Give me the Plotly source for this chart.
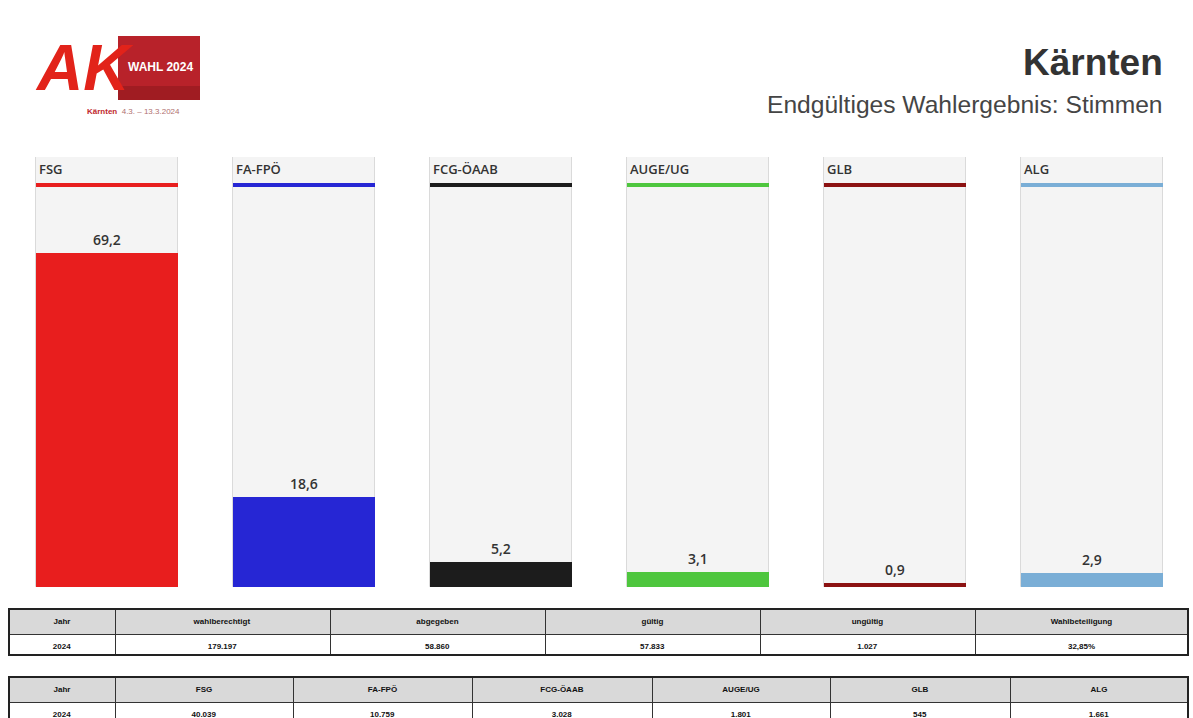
import plotly.graph_objects as go

# ---------------- data ----------------
parties = ["FSG", "FA-FPÖ", "FCG-ÖAAB", "AUGE/UG", "GLB", "ALG"]
percent = [69.2, 18.6, 5.2, 3.1, 0.9, 2.9]
percent_labels = ["69,2", "18,6", "5,2", "3,1", "0,9", "2,9"]
party_colors = ["#e81e1e", "#2626d4", "#1c1c1c", "#4ec63e", "#8c1212", "#7aaed6"]

summary_header = ["Jahr", "wahlberechtigt", "abgegeben", "gültig", "ungültig", "Wahlbeteiligung"]
summary_values = ["2024", "179.197", "58.860", "57.833", "1.027", "32,85%"]

votes_header = ["Jahr", "FSG", "FA-FPÖ", "FCG-ÖAAB", "AUGE/UG", "GLB", "ALG"]
votes_values = ["2024", "40.039", "10.759", "3.028", "1.801", "545", "1.661"]

title_text = "Kärnten"
subtitle_text = "Endgültiges Wahlergebnis: Stimmen"

# ---------------- layout helpers ----------------
W, H = 1193, 718
def px(x):
    return x / W
def py(y):
    return 1 - y / H

YMAX = 89.0          # full panel height in data units
HEADER_Y = 83.2      # colored header line position
HEADER_T = 0.85      # colored header line thickness
LABEL_Y = 86.6       # party label position
BW = 0.721           # bar/panel width

fig = go.Figure()

# panel backgrounds
fig.add_trace(go.Bar(
    x=parties, y=[YMAX] * len(parties), width=BW,
    marker=dict(color="#f4f4f4", line=dict(color="#dadada", width=1)),
    hoverinfo="skip", showlegend=False))

# value bars
fig.add_trace(go.Bar(
    x=parties, y=percent, width=BW,
    marker=dict(color=party_colors, line=dict(width=0)),
    showlegend=False))

# colored header lines
fig.add_trace(go.Bar(
    x=parties, y=[HEADER_T] * len(parties), base=[HEADER_Y - HEADER_T / 2] * len(parties),
    width=BW, marker=dict(color=party_colors, line=dict(width=0)),
    hoverinfo="skip", showlegend=False))

annotations = []
for p, v, lab in zip(parties, percent, percent_labels):
    annotations.append(dict(
        x=p, y=v, xref="x", yref="y", text=lab, showarrow=False,
        yanchor="bottom", yshift=2,
        font=dict(family="Open Sans", size=14, color="#333333", weight=600)))
    annotations.append(dict(
        x=p, y=LABEL_Y, xref="x", yref="y", text=p, showarrow=False,
        xanchor="left", yanchor="middle", xshift=-BW / 2 * 197 + 1,
        font=dict(family="Open Sans", size=13, color="#333333", weight=600)))

# title
annotations.append(dict(
    x=px(1165), y=py(62), xref="paper", yref="paper", text="<b>" + title_text + "</b>",
    showarrow=False, xanchor="right", yanchor="middle",
    font=dict(family="Liberation Sans", size=37, color="#333333")))
annotations.append(dict(
    x=px(1165), y=py(104), xref="paper", yref="paper", text=subtitle_text,
    showarrow=False, xanchor="right", yanchor="middle",
    font=dict(family="Liberation Sans", size=24.6, color="#454545")))

# logo texts
annotations.append(dict(
    x=px(84), y=py(68), xref="paper", yref="paper", text="<b><i>AK</i></b>",
    showarrow=False, xanchor="center", yanchor="middle",
    font=dict(family="Liberation Sans", size=64, color="#e2231a")))
annotations.append(dict(
    x=px(160), y=py(67), xref="paper", yref="paper", text="<b>WAHL 2024</b>",
    showarrow=False, xanchor="center", yanchor="middle",
    font=dict(family="Liberation Sans", size=12, color="#ffffff")))
annotations.append(dict(
    x=px(133), y=py(111), xref="paper", yref="paper",
    text="<b><span style='color:#c0282d'>Kärnten</span></b>  4.3. – 13.3.2024",
    showarrow=False, xanchor="center", yanchor="middle",
    font=dict(family="Liberation Sans", size=8, color="#b07070")))

shapes = [
    # logo cube
    dict(type="rect", xref="paper", yref="paper",
         x0=px(118), x1=px(200), y0=py(100), y1=py(36),
         fillcolor="#b8222a", line=dict(width=0), layer="below"),
    dict(type="rect", xref="paper", yref="paper",
         x0=px(118), x1=px(200), y0=py(100), y1=py(86),
         fillcolor="#a01c22", line=dict(width=0), layer="below"),
    # table outer borders
    dict(type="rect", xref="paper", yref="paper",
         x0=px(9), x1=px(1188), y0=py(655), y1=py(609),
         line=dict(color="#222222", width=2), fillcolor="rgba(0,0,0,0)"),
    dict(type="rect", xref="paper", yref="paper",
         x0=px(9), x1=px(1188), y0=py(720), y1=py(677),
         line=dict(color="#222222", width=2), fillcolor="rgba(0,0,0,0)"),
]

# tables
fig.add_trace(go.Table(
    domain=dict(x=[px(9), px(1188)], y=[py(656), py(609)]),
    columnwidth=[106, 215, 215, 215, 215, 213],
    header=dict(values=["<b>" + h + "</b>" for h in summary_header],
                fill_color="#d9d9d9", line=dict(color="#333333", width=1),
                font=dict(family="Liberation Sans", size=8, color="#111111"),
                align="center", height=21),
    cells=dict(values=[["<b>" + v + "</b>"] for v in summary_values],
               fill_color="#ffffff", line=dict(color="#333333", width=1),
               font=dict(family="Liberation Sans", size=8, color="#111111"),
               align="center", height=19)))

fig.add_trace(go.Table(
    domain=dict(x=[px(9), px(1188)], y=[0, py(677)]),
    columnwidth=[106, 178, 179, 180, 178, 180, 178],
    header=dict(values=["<b>" + h + "</b>" for h in votes_header],
                fill_color="#d9d9d9", line=dict(color="#333333", width=1),
                font=dict(family="Liberation Sans", size=8, color="#111111"),
                align="center", height=20),
    cells=dict(values=[["<b>" + v + "</b>"] for v in votes_values],
               fill_color="#ffffff", line=dict(color="#333333", width=1),
               font=dict(family="Liberation Sans", size=8, color="#111111"),
               align="center", height=19)))

fig.update_layout(
    width=W, height=H,
    margin=dict(l=0, r=0, t=0, b=0),
    paper_bgcolor="#ffffff", plot_bgcolor="#ffffff",
    barmode="overlay", bargap=0,
    showlegend=False,
    annotations=annotations, shapes=shapes,
    xaxis=dict(domain=[0, 1], range=[-107 / 197, 1086 / 197],
               showticklabels=False, showgrid=False, zeroline=False,
               showline=False, ticks="", fixedrange=True),
    yaxis=dict(domain=[py(587), py(157)], range=[0, YMAX],
               showticklabels=False, showgrid=False, zeroline=False,
               showline=False, ticks="", fixedrange=True),
)

fig.write_html("out.html")
